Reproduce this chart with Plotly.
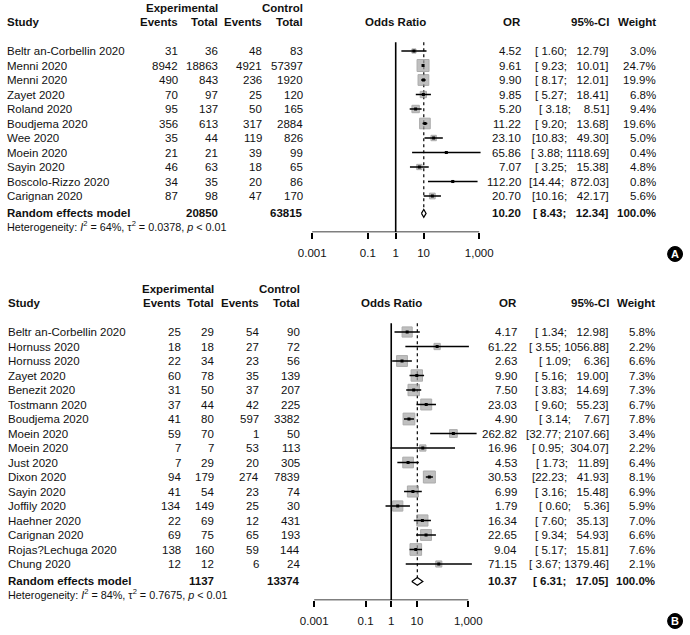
import math
import plotly.graph_objects as go

W, H = 690, 635
FONT = "Liberation Sans, Arial, Helvetica, sans-serif"
NB = "\u00a0"
FS = 11.5

# ---------------- Panel A data ----------------
a_study = ["Beltr an-Corbellin 2020", "Menni 2020", "Menni 2020", "Zayet 2020", "Roland 2020",
           "Boudjema 2020", "Wee 2020", "Moein 2020", "Sayin 2020", "Boscolo-Rizzo 2020", "Carignan 2020"]
a_exp_events = [31, 8942, 490, 70, 95, 356, 35, 21, 46, 34, 87]
a_exp_total = [36, 18863, 843, 97, 137, 613, 44, 21, 63, 35, 98]
a_ctrl_events = [48, 4921, 236, 25, 50, 317, 119, 39, 18, 20, 47]
a_ctrl_total = [83, 57397, 1920, 120, 165, 2884, 826, 99, 65, 86, 170]
a_or = [4.52, 9.61, 9.90, 9.85, 5.20, 11.22, 23.10, 65.86, 7.07, 112.20, 20.70]
a_lo = [1.60, 9.23, 8.17, 5.27, 3.18, 9.20, 10.83, 3.88, 3.25, 14.44, 10.16]
a_hi = [12.79, 10.01, 12.01, 18.41, 8.51, 13.68, 49.30, 1118.69, 15.38, 872.03, 42.17]
a_weight = [3.0, 24.7, 19.9, 6.8, 9.4, 19.6, 5.0, 0.4, 4.8, 0.8, 5.6]
a_summary = [10.20, 8.43, 12.34]
a_totals = [20850, 63815]
a_het = ["64%", "0.0378", "0.01"]

# ---------------- Panel B data ----------------
b_study = ["Beltr an-Corbellin 2020", "Hornuss 2020", "Hornuss 2020", "Zayet 2020", "Benezit 2020",
           "Tostmann 2020", "Boudjema 2020", "Moein 2020", "Moein 2020", "Just 2020", "Dixon 2020",
           "Sayin 2020", "Joffily 2020", "Haehner 2020", "Carignan 2020", "Rojas?Lechuga 2020", "Chung 2020"]
b_exp_events = [25, 18, 22, 60, 31, 37, 41, 59, 7, 7, 94, 41, 134, 22, 69, 138, 12]
b_exp_total = [29, 18, 34, 78, 50, 44, 80, 70, 7, 29, 179, 54, 149, 69, 75, 160, 12]
b_ctrl_events = [54, 27, 23, 35, 37, 42, 597, 1, 53, 20, 274, 23, 25, 12, 65, 59, 6]
b_ctrl_total = [90, 72, 56, 139, 207, 225, 3382, 50, 113, 305, 7839, 74, 30, 431, 193, 144, 24]
b_or = [4.17, 61.22, 2.63, 9.90, 7.50, 23.03, 4.90, 262.82, 16.96, 4.53, 30.53, 6.99, 1.79, 16.34, 22.65, 9.04, 71.15]
b_lo = [1.34, 3.55, 1.09, 5.16, 3.83, 9.60, 3.14, 32.77, 0.95, 1.73, 22.23, 3.16, 0.60, 7.60, 9.34, 5.17, 3.67]
b_hi = [12.98, 1056.88, 6.36, 19.00, 14.69, 55.23, 7.67, 2107.66, 304.07, 11.89, 41.93, 15.48, 5.36, 35.13, 54.93, 15.81, 1379.46]
b_weight = [5.8, 2.2, 6.6, 7.3, 7.3, 6.7, 7.8, 3.4, 2.2, 6.4, 8.1, 6.9, 5.9, 7.0, 6.6, 7.6, 2.1]
b_summary = [10.37, 6.31, 17.05]
b_totals = [1137, 13374]
b_het = ["84%", "0.7675", "0.01"]

tick_vals = [0.001, 0.1, 1, 10, 1000]
tick_text = ["0.001", "0.1", "1", "10", "1,000"]

fig = go.Figure()
annotations = []
shapes = []


def fx(px):
    return px / W


def fy(py):
    return 1 - py / H


def add_text(text, xpx, r, yref, anchor="right", bold=False, size=FS):
    t = f"<b>{text}</b>" if bold else text
    annotations.append(dict(text=t, x=fx(xpx), xref="paper", y=r, yref=yref,
                            xanchor=anchor, yanchor="middle", showarrow=False,
                            borderpad=0, font=dict(family=FONT, size=size, color="#111111")))


def ci_strings(lo, hi):
    los = [f"{v:.2f}" for v in lo]
    his = [f"{v:.2f}" for v in hi]
    wl = max(len(s) for s in los)
    wh = max(len(s) for s in his)
    return ["[" + l.rjust(wl, NB) + ";" + NB + h.rjust(wh, NB) + "]" for l, h in zip(los, his)]


panels = [
    dict(study=a_study, ee=a_exp_events, et=a_exp_total, ce=a_ctrl_events, ct=a_ctrl_total,
         orr=a_or, lo=a_lo, hi=a_hi, w=a_weight, summ=a_summary, tot=a_totals, het=a_het,
         first_px=51, top_px=0, cols=[178, 218, 263, 304], rcols=[523, 612, 659], study_x=4,
         x0=312, x1000=480, xa="x", ya="y", label="A", label_px=(677, 254)),
    dict(study=b_study, ee=b_exp_events, et=b_exp_total, ce=b_ctrl_events, ct=b_ctrl_total,
         orr=b_or, lo=b_lo, hi=b_hi, w=b_weight, summ=b_summary, tot=b_totals, het=b_het,
         first_px=332, top_px=268, cols=[181, 214, 260, 301], rcols=[519, 612, 658], study_x=5,
         x0=314, x1000=469, xa="x2", ya="y2", label="B", label_px=(677, 621)),
]

ROW = 14.5
layout_axes = {}
for idx, p in enumerate(panels):
    n = len(p["study"])
    rows = list(range(n))
    r_sum = n + 0.2
    r_het = n + 1.1
    r_axis = n + 1.5
    r_top = (p["top_px"] - p["first_px"]) / ROW
    axis_px = p["first_px"] + ROW * r_axis
    dec = (p["x1000"] - p["x0"]) / 6.0
    dom = [fx(p["x0"] - 0.5 * dec), fx(p["x1000"] + 0.5 * dec)]
    yname = "yaxis" if idx == 0 else "yaxis2"
    xname = "xaxis" if idx == 0 else "xaxis2"
    layout_axes[yname] = dict(domain=[fy(axis_px), fy(p["top_px"])], range=[r_axis, r_top],
                              visible=False, fixedrange=True, anchor=p["xa"])
    layout_axes[xname] = dict(domain=dom, type="log", range=[-3.5, 3.5], anchor=p["ya"],
                              tickvals=tick_vals, ticktext=tick_text, ticks="outside", ticklen=6,
                              tickwidth=1.5, tickcolor="black", showgrid=False, zeroline=False,
                              showline=False, ticklabelstandoff=4,
                              tickfont=dict(family=FONT, size=FS, color="#111111"), fixedrange=True)
    xa, ya = p["xa"], p["ya"]
    est, slo, shi = p["summ"]
    # reference lines
    fig.add_trace(go.Scatter(x=[1, 1], y=[-0.6, r_axis], mode="lines", xaxis=xa, yaxis=ya,
                             line=dict(color="black", width=1.6), hoverinfo="skip"))
    fig.add_trace(go.Scatter(x=[est, est], y=[-0.6, r_sum - 0.25], mode="lines", xaxis=xa, yaxis=ya,
                             line=dict(color="black", width=1.2, dash="dot"), hoverinfo="skip"))
    # axis line
    fig.add_trace(go.Scatter(x=[tick_vals[0], tick_vals[-1]], y=[r_axis, r_axis], mode="lines",
                             xaxis=xa, yaxis=ya, line=dict(color="black", width=1.5),
                             hoverinfo="skip", cliponaxis=False))
    # squares (area proportional to weight)
    wmax = max(p["w"])
    sizes = [max(2.0, 12.0 * math.sqrt(wi / wmax)) for wi in p["w"]]
    fig.add_trace(go.Scatter(x=p["orr"], y=rows, mode="markers", xaxis=xa, yaxis=ya,
                             marker=dict(symbol="square", size=sizes, color="#a4a4a4",
                                         line=dict(color="#8a8a8a", width=1)), hoverinfo="skip"))
    # CI lines
    cx, cy = [], []
    for r, l, h in zip(rows, p["lo"], p["hi"]):
        cx += [l, h, None]
        cy += [r, r, None]
    fig.add_trace(go.Scatter(x=cx, y=cy, mode="lines", xaxis=xa, yaxis=ya,
                             line=dict(color="black", width=1.5), hoverinfo="skip", cliponaxis=False))
    fig.add_trace(go.Scatter(x=p["orr"], y=rows, mode="markers", xaxis=xa, yaxis=ya,
                             marker=dict(symbol="square", size=3, color="black"), hoverinfo="skip"))
    # diamond
    fig.add_trace(go.Scatter(x=[slo, est, shi, est, slo], y=[r_sum, r_sum - 0.27, r_sum, r_sum + 0.27, r_sum],
                             mode="lines", fill="toself", fillcolor="white", xaxis=xa, yaxis=ya,
                             line=dict(color="black", width=1.2), hoverinfo="skip"))

    # headers
    c_ee, c_et, c_ce, c_ct = p["cols"]
    c_or, c_ci, c_w = p["rcols"]
    x_one = p["x0"] + 3 * dec
    add_text("Experimental", c_et, -3, ya, bold=True)
    add_text("Control", c_ct, -3, ya, bold=True)
    add_text("Study", p["study_x"], -2, ya, anchor="left", bold=True)
    add_text("Events", c_ee, -2, ya, bold=True)
    add_text("Total", c_et, -2, ya, bold=True)
    add_text("Events", c_ce, -2, ya, bold=True)
    add_text("Total", c_ct, -2, ya, bold=True)
    add_text("Odds Ratio", x_one, -2, ya, anchor="center", bold=True)
    add_text("OR", c_or, -2, ya, bold=True)
    add_text("95%-CI", c_ci, -2, ya, bold=True)
    add_text("Weight", c_w, -2, ya, bold=True)

    cis = ci_strings(p["lo"] + [slo], p["hi"] + [shi])
    for i in rows:
        add_text(p["study"][i], p["study_x"], i, ya, anchor="left")
        add_text(str(p["ee"][i]), c_ee, i, ya)
        add_text(str(p["et"][i]), c_et, i, ya)
        add_text(str(p["ce"][i]), c_ce, i, ya)
        add_text(str(p["ct"][i]), c_ct, i, ya)
        add_text(f"{p['orr'][i]:.2f}", c_or, i, ya)
        add_text(cis[i], c_ci, i, ya)
        add_text(f"{p['w'][i]:.1f}%", c_w, i, ya)
    # summary row
    add_text("Random effects model", p["study_x"], r_sum, ya, anchor="left", bold=True)
    add_text(str(p["tot"][0]), c_et, r_sum, ya, bold=True)
    add_text(str(p["tot"][1]), c_ct, r_sum, ya, bold=True)
    add_text(f"{est:.2f}", c_or, r_sum, ya, bold=True)
    add_text(cis[-1], c_ci, r_sum, ya, bold=True)
    add_text("100.0%", c_w, r_sum, ya, bold=True)
    i2, tau2, pv = p["het"]
    het = (f"Heterogeneity: <i>I</i><sup>2</sup> = {i2}, \u03c4<sup>2</sup> = {tau2}, "
           f"<i>p</i> &lt; {pv}")
    add_text(het, p["study_x"], r_het, ya, anchor="left", size=10.8)

    # panel letter badge
    lx, ly = p["label_px"]
    rad = 7.5
    shapes.append(dict(type="circle", xref="paper", yref="paper",
                       x0=fx(lx - rad), x1=fx(lx + rad), y0=fy(ly + rad), y1=fy(ly - rad),
                       fillcolor="black", line=dict(color="black", width=1)))
    annotations.append(dict(text=f"<b>{p['label']}</b>", x=fx(lx), y=fy(ly), xref="paper", yref="paper",
                            xanchor="center", yanchor="middle", showarrow=False, borderpad=0,
                            font=dict(family=FONT, size=11, color="white")))

fig.update_layout(
    width=W, height=H, margin=dict(l=0, r=0, t=0, b=0, pad=0),
    paper_bgcolor="white", plot_bgcolor="white", showlegend=False,
    annotations=annotations, shapes=shapes, **layout_axes,
)

# remove the default page margin so the 690x635 figure fills the window exactly
fig.write_html("out.html", config={"displayModeBar": False},
               post_script="document.body.style.margin='0';document.body.style.overflow='hidden';")
